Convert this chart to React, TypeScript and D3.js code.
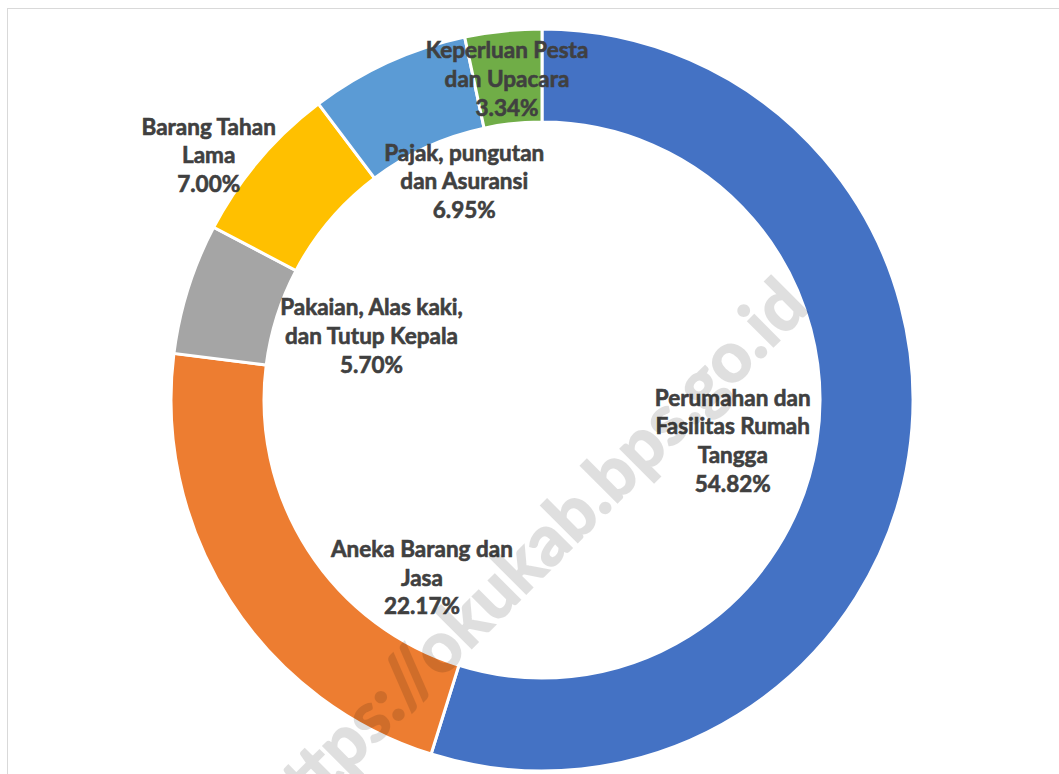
import React from 'react';
import * as d3 from 'd3';

// Composition of household non-food spending (percent)
const categories = [
  'Perumahan dan Fasilitas Rumah Tangga',
  'Aneka Barang dan Jasa',
  'Pakaian, Alas kaki, dan Tutup Kepala',
  'Barang Tahan Lama',
  'Pajak, pungutan dan Asuransi',
  'Keperluan Pesta dan Upacara',
];
const shares = [54.82, 22.17, 5.7, 7.0, 6.95, 3.34];
// how each label wraps in the original
const labelLines = [
  ['Perumahan dan', 'Fasilitas Rumah', 'Tangga'],
  ['Aneka Barang dan', 'Jasa'],
  ['Pakaian, Alas kaki,', 'dan Tutup Kepala'],
  ['Barang Tahan', 'Lama'],
  ['Pajak, pungutan', 'dan Asuransi'],
  ['Keperluan Pesta', 'dan Upacara'],
];

const colors = ['#4472C4', '#ED7D31', '#A5A5A5', '#FFC000', '#5B9BD5', '#70AD47'];
// labels were dragged by hand: nudge from the ring centroid
const nudges: [number, number][] = [
  [-130, -9],
  [153, 2],
  [139, 33],
  [-86, -35],
  [57, 76],
  [-1, 1],
];

const W = 1059;
const H = 774;
const cx = 542;
const cy = 400;
const outerR = 371;
const innerR = 278;
const lineH = 28.7;

const App: React.FC = () => {
  const pie = d3.pie<number>().sort(null).value(d => d);
  const arcs = pie(shares);
  const arc = d3.arc<d3.PieArcDatum<number>>().innerRadius(innerR).outerRadius(outerR);

  return (
    <svg
      width={W}
      height={H}
      style={{ position: 'absolute', left: 0, top: 0, background: '#fff' }}
      fontFamily="Lato, 'Open Sans', sans-serif"
    >
      <rect x={7.5} y={8.5} width={W + 20} height={H + 20} fill="#fff" stroke="#d9d9d9" strokeWidth={1} />

      <g transform={`translate(${cx},${cy})`}>
        {arcs.map((a, i) => (
          <path key={categories[i]} d={arc(a) || ''} fill={colors[i]} stroke="#fff" strokeWidth={3} />
        ))}

        {arcs.map((a, i) => {
          const [x, y] = arc.centroid(a);
          const lines = [...labelLines[i], `${shares[i].toFixed(2)}%`];
          const lx = x + nudges[i][0];
          const ly = y + nudges[i][1];
          return (
            <text
              key={'l' + i}
              x={lx}
              y={ly}
              textAnchor="middle"
              fill="#404040"
              stroke="#404040"
              strokeWidth={0.6}
              fontSize={22.5}
              fontWeight={700}
            >
              {lines.map((t, j) => (
                <tspan key={j} x={lx} y={ly + (j - (lines.length - 1) / 2) * lineH} dominantBaseline="central">
                  {t}
                </tspan>
              ))}
            </text>
          );
        })}
      </g>

      {/* site watermark */}
      <g opacity={0.12}>
        <text
          transform="translate(547,573) rotate(-45)"
          textAnchor="middle"
          fontSize={70}
          fontWeight={700}
          fill="#000"
          stroke="#000"
          strokeWidth={1.8}
        >
          https://okukab.bps.go.id
        </text>
      </g>
    </svg>
  );
};

export default App;
